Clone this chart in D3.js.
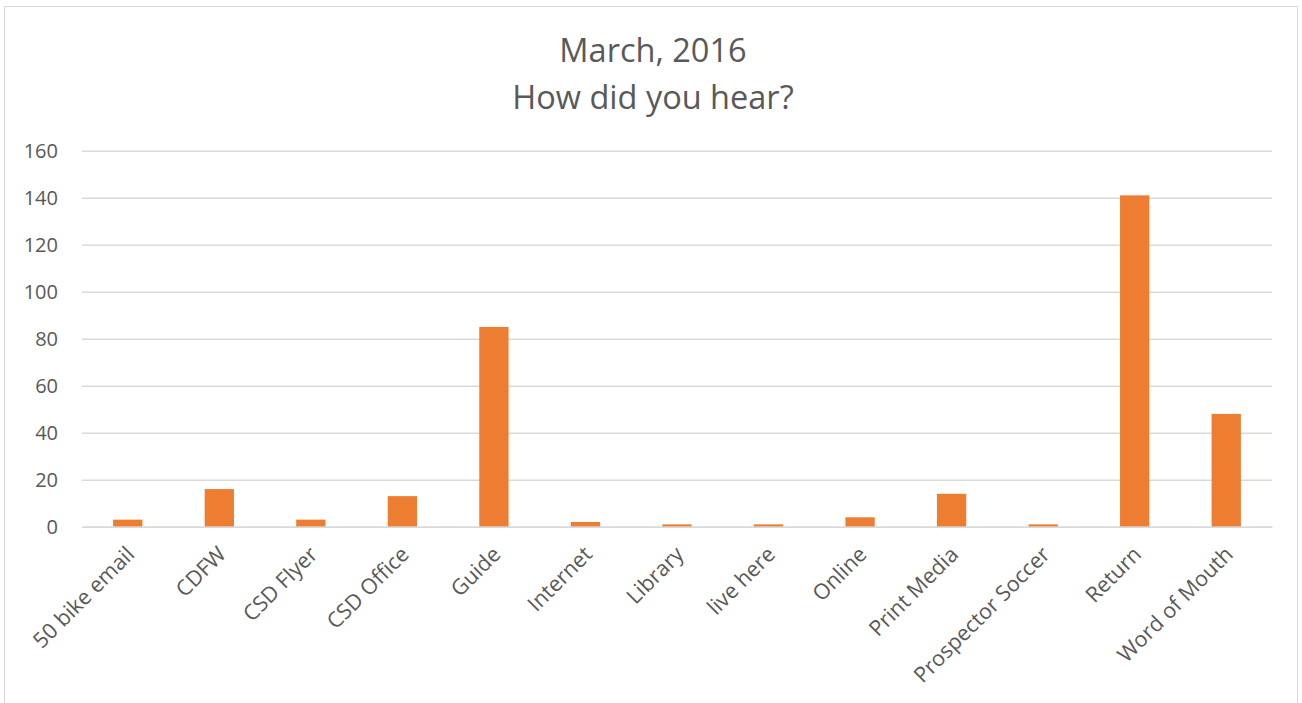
<!DOCTYPE html>
<html><head><meta charset="utf-8">
<script src="https://cdn.jsdelivr.net/npm/d3@7"></script>
<style>body{margin:0;background:#fff}svg{display:block}</style>
</head><body>
<script>
const categories = ["50 bike email","CDFW","CSD Flyer","CSD Office","Guide","Internet","Library","live here","Online","Print Media","Prospector Soccer","Return","Word of Mouth"];
const values = [3,16,3,13,85,2,1,1,4,14,1,141,48];
const yTicks = [0,20,40,60,80,100,120,140,160];
const titleLines = ["March, 2016","How did you hear?"];

const W=1302,H=703;
const font="'Open Sans', sans-serif";
const svg=d3.select("body").append("svg").attr("width",W).attr("height",H);
svg.append("rect").attr("x",4.5).attr("y",6.5).attr("width",1293).attr("height",710).attr("fill","#fff").attr("stroke","#d9d9d9");

const x=d3.scaleBand().domain(categories).range([82,1272]).paddingInner(0.68).paddingOuter(0.34);
const y=d3.scaleLinear().domain([0,160]).range([526.7,150.7]);

const gy=svg.append("g").attr("transform","translate(82,0)")
  .call(d3.axisLeft(y).tickValues(yTicks).tickSize(-1190).tickPadding(24).tickFormat(d3.format("d")));
gy.select(".domain").remove();
gy.selectAll(".tick line").attr("stroke","#d9d9d9").attr("stroke-width",1.5);
gy.selectAll(".tick text").attr("fill","#595959").style("font-family",font).style("font-size","20px");

svg.append("g").selectAll("rect").data(values).join("rect")
  .attr("x",(d,i)=>x(categories[i])).attr("width",x.bandwidth())
  .attr("y",d=>y(d)).attr("height",d=>y(0)-y(d)).attr("fill","#ed7d31");

const gx=svg.append("g").attr("transform",`translate(0,${y(0)})`).call(d3.axisBottom(x).tickSize(0));
gx.select(".domain").attr("stroke","#d9d9d9").attr("stroke-width",1.5);
gx.selectAll(".tick text").attr("fill","#595959").style("font-family",font).style("font-size","21.5px")
  .attr("text-anchor","end").attr("dy",0).attr("y",0)
  .attr("transform","translate(8,29) rotate(-45)");

svg.append("g").selectAll("text").data(titleLines).join("text")
  .attr("x",653).attr("y",(d,i)=>62+i*47).attr("text-anchor","middle")
  .attr("fill","#595959").style("font-family",font).style("font-size","32.5px").text(d=>d);
</script>
</body></html>
